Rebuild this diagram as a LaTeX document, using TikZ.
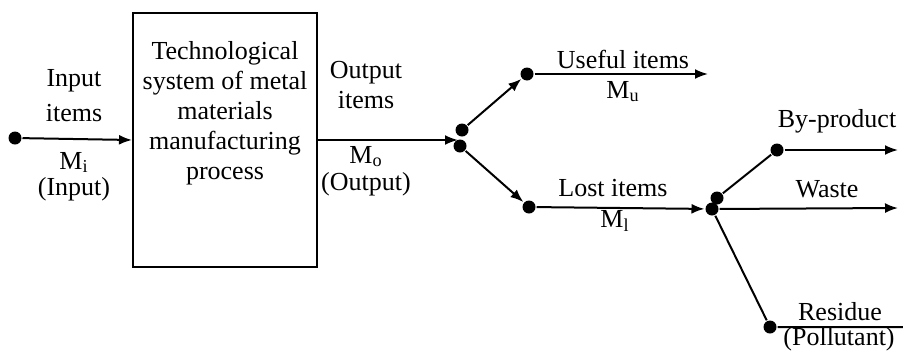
\documentclass[tikz,border=0pt]{standalone}
\usepackage{fontspec}
\setmainfont{Liberation Serif}
\usetikzlibrary{arrows.meta}

\begin{document}
\begin{tikzpicture}[x=0.5pt,y=-0.5pt,>={Latex[length=6.5pt,width=5pt]},line width=1pt,
    every node/.style={font=\fontsize{13}{15}\selectfont,inner sep=0pt},
    dot/.style={circle,fill,minimum size=6.5pt},
    txt/.style={align=center,anchor=north}]
    \useasboundingbox (0,0) rectangle (903,354);

    % system box
    \node[draw,minimum width=92pt,minimum height=127pt] (sys) at (225,140) {};
    \node[txt] (systxt) at (225,40) {Technological\\system of metal\\materials\\manufacturing\\process};

    % points
    \node[dot] (in) at (15,138) {};
    \coordinate (f1) at (458,140);
    \node[dot] (s1a) at (462,130) {};
    \node[dot] (s1b) at (460,146) {};
    \node[dot] (useful) at (527,74) {};
    \node[dot] (lost) at (529,207) {};
    \node[dot] (s2a) at (717,198) {};
    \node[dot] (s2b) at (712,209) {};
    \node[dot] (byp) at (777,150) {};
    \node[dot] (res) at (770,327) {};
    \coordinate (uend) at (708,74);
    \coordinate (bend) at (898,150);
    \coordinate (wend) at (898,208);
    \coordinate (rend) at (903,327);

    % flows
    \draw[->] (in) -- (sys.west);
    \draw[->] (sys.east) -- (f1);
    \draw[->] (s1a) -- (useful);
    \draw[->] (s1b) -- (lost);
    \draw[->] (useful) -- (uend);
    \draw[->] (lost) -- (s2b);
    \draw (s2a) -- (byp);
    \draw[->] (byp) -- (bend);
    \draw[->] (s2b) -- (wend);
    \draw (s2b) -- (res) -- (rend);

    % labels
    \node[txt] (inlbl) at (74,68) {Input\\[2.5pt]items};
    \node[txt] (inm) at (74,151) {M\textsubscript{i}\\[-2pt](Input)};
    \node[txt] (outlbl) at (366,60) {Output\\items};
    \node[txt] (outm) at (366,145) {M\textsubscript{o}\\[-1.5pt](Output)};
    \node[anchor=base] (ulbl) at (623,68) {Useful items};
    \node[anchor=base] (um) at (623,98) {M\textsubscript{u}};
    \node[anchor=base] (llbl) at (613,196) {Lost items};
    \node[anchor=base] (lm) at (615,227) {M\textsubscript{l}};
    \node[anchor=base] (blbl) at (837,127) {By-product};
    \node[anchor=base] (wlbl) at (827,197) {Waste};
    \node[anchor=base] (rlbl) at (840,320) {Residue};
    \node[anchor=base] (plbl) at (839,345) {(Pollutant)};
\end{tikzpicture}
\end{document}
